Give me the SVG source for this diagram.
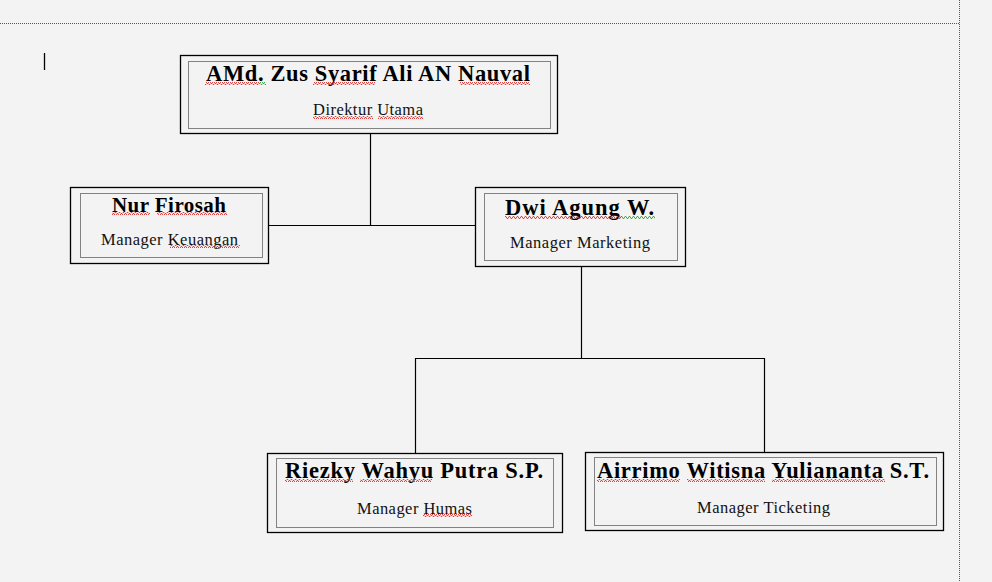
<svg xmlns="http://www.w3.org/2000/svg" width="992" height="582" viewBox="0 0 992 582">
<defs>
<pattern id="wr" width="4" height="3" patternUnits="userSpaceOnUse">
<polyline points="0,2.5 1,0.5 2,0.5 3,2.5 4,2.5" fill="none" stroke="#e03030" stroke-width="0.9"/>
</pattern>
<pattern id="wg" width="4" height="3" patternUnits="userSpaceOnUse">
<polyline points="0,2.5 1,0.5 2,0.5 3,2.5 4,2.5" fill="none" stroke="#30a030" stroke-width="0.9"/>
</pattern>
</defs>
<style>
.bg{fill:#f3f3f3}
.outer{fill:none;stroke:#000;stroke-width:1.3}
.inner{fill:none;stroke:#111;stroke-width:1;stroke-dasharray:1 1}
.t{font-family:"Liberation Serif","Times New Roman",serif;font-weight:bold;font-size:22.5px;fill:#000;text-anchor:middle}
.s{font-family:"Liberation Serif","Times New Roman",serif;font-size:16.5px;fill:#111;text-anchor:middle}
.conn line{stroke:#000;stroke-width:1.2}
.page{stroke:#555;stroke-width:1;stroke-dasharray:1 1;fill:none}
.r{fill:url(#wr)}
.g{fill:url(#wg)}
</style>
<rect class="bg" x="0" y="0" width="992" height="582"/>
<g id="page">
<line class="page" x1="0" y1="23.5" x2="959" y2="23.5"/>
<line class="page" x1="959.5" y1="0" x2="959.5" y2="582"/>
<line x1="44.5" y1="53" x2="44.5" y2="70" stroke="#000" stroke-width="1.3"/>
</g>
<g id="connectors" class="conn">
<line x1="370.5" y1="133" x2="370.5" y2="225"/>
<line x1="268" y1="225.5" x2="475" y2="225.5"/>
<line x1="581.5" y1="266" x2="581.5" y2="358"/>
<line x1="415" y1="358.5" x2="765" y2="358.5"/>
<line x1="415.5" y1="358" x2="415.5" y2="453"/>
<line x1="764.5" y1="358" x2="764.5" y2="452"/>
</g>
<g id="n-direktur">
<rect class="outer" x="180.5" y="55.5" width="377" height="78"/>
<rect class="inner" x="188.5" y="61.5" width="362" height="67"/>
<text class="t" x="368" y="81" textLength="324" lengthAdjust="spacing">AMd. Zus Syarif Ali AN Nauval</text>
<text class="s" x="368" y="115" textLength="110" lengthAdjust="spacing">Direktur Utama</text>
<rect class="r" x="205" y="82" width="55" height="3"/>
<rect class="g" x="260" y="82" width="6" height="3"/>
<rect class="r" x="313" y="82" width="62" height="3"/>
<rect class="r" x="460" y="82" width="70" height="3"/>
<rect class="r" x="313" y="116" width="60" height="3"/>
<rect class="r" x="378" y="116" width="45" height="3"/>
</g>
<g id="n-keuangan">
<rect class="outer" x="70.5" y="187.5" width="198" height="76"/>
<rect class="inner" x="80.5" y="193.5" width="182" height="64"/>
<text class="t" x="169" y="212" style="font-size:21px" textLength="114" lengthAdjust="spacing">Nur Firosah</text>
<text class="s" x="169.5" y="245" textLength="137" lengthAdjust="spacing">Manager Keuangan</text>
<rect class="r" x="112" y="212" width="38" height="3"/>
<rect class="r" x="157" y="212" width="70" height="3"/>
<rect class="r" x="170" y="245" width="70" height="3"/>
</g>
<g id="n-marketing">
<rect class="outer" x="475.5" y="187.5" width="210" height="79"/>
<rect class="inner" x="484.5" y="193.5" width="193" height="67"/>
<text class="t" x="579.5" y="215" textLength="149" lengthAdjust="spacing">Dwi Agung W.</text>
<text class="s" x="580" y="248" textLength="140" lengthAdjust="spacing">Manager Marketing</text>
<rect class="r" x="505" y="216" width="117" height="3"/>
<rect class="g" x="622" y="216" width="33" height="3"/>
</g>
<g id="n-humas">
<rect class="outer" x="267.5" y="453.5" width="295" height="79"/>
<rect class="inner" x="276.5" y="458.5" width="277" height="69"/>
<text class="t" x="414" y="478" textLength="258" lengthAdjust="spacing">Riezky Wahyu  Putra S.P.</text>
<text class="s" x="414.5" y="514" textLength="115" lengthAdjust="spacing">Manager Humas</text>
<rect class="r" x="285" y="479" width="68" height="3"/>
<rect class="r" x="360" y="479" width="72" height="3"/>
<rect class="r" x="423" y="514" width="49" height="3"/>
</g>
<g id="n-ticketing">
<rect class="outer" x="585.5" y="452.5" width="358" height="78"/>
<rect class="inner" x="594.5" y="457.5" width="342" height="68"/>
<text class="t" x="763" y="478" textLength="332" lengthAdjust="spacing">Airrimo Witisna Yuliananta S.T.</text>
<text class="s" x="763.5" y="513" textLength="133" lengthAdjust="spacing">Manager Ticketing</text>
<rect class="r" x="597" y="479" width="83" height="3"/>
<rect class="r" x="687" y="479" width="78" height="3"/>
<rect class="r" x="772" y="479" width="113" height="3"/>
</g>
</svg>
